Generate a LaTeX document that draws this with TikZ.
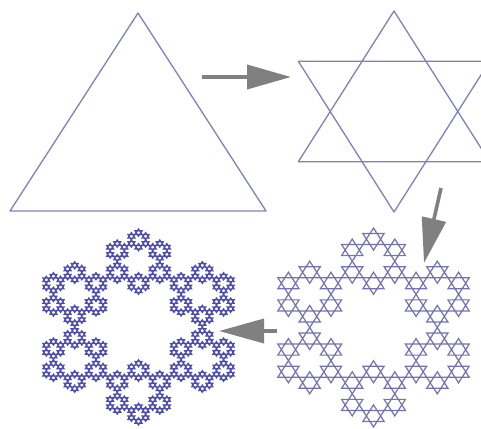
\documentclass[tikz,border=0pt]{standalone}
\usepackage{tikz}
\usetikzlibrary{arrows.meta}
\definecolor{paleline}{HTML}{8080BE}
\definecolor{midline}{HTML}{7272B4}
\definecolor{darkline}{HTML}{4E4EB0}
\definecolor{pointer}{HTML}{808080}
\tikzset{
  outline/.style={draw=paleline,line width=1.3pt,line join=round},
  midstar/.style={draw=midline,line width=1.2pt},
  darkstar/.style={draw=darkline,line width=1.15pt},
  pointer/.style={draw=pointer,line width=3.6pt,-{Triangle[length=#1,width=24pt]}},
}
\newcommand{\hexmark}[1]{\draw[#1] (90:1) -- (210:1) -- (330:1) -- cycle (270:1) -- (30:1) -- (150:1) -- cycle;}
\newcommand{\sixcopies}[1]{\foreach \a in {30,90,...,330} {\begin{scope}[shift={(\a:0.6667)},scale=0.3333] #1 \end{scope}}}
\begin{document}
\begin{tikzpicture}[x=1pt,y=-1pt]
        \clip (0,0) rectangle (481,428);
        \fill[white] (0,0) rectangle (481,428);
        % triangle
        \coordinate (apex) at (138,13);
        \coordinate (baseleft) at (10,211);
        \coordinate (baseright) at (266,211);
        \draw[outline] (apex) -- (baseleft) -- (baseright) -- cycle;
        % star
        \begin{scope}[shift={(394,111.5)},xscale=110.5,yscale=100.5]
            \hexmark{outline}
        \end{scope}
        % stars of stars
        \begin{scope}[shift={(373.5,327.5)},xscale=110.5,yscale=99.5]
            \sixcopies{\sixcopies{\hexmark{midstar}}}
        \end{scope}
        \begin{scope}[shift={(138.5,327)},xscale=110.5,yscale=98]
            \sixcopies{\sixcopies{\sixcopies{\hexmark{darkstar}}}}
        \end{scope}
        % pointers
        \coordinate (onestart) at (202,77);
        \coordinate (oneend) at (291,77);
        \coordinate (twostart) at (441,188);
        \coordinate (twoend) at (424,263);
        \coordinate (threestart) at (277,331);
        \coordinate (threeend) at (219,331);
        \draw[pointer=44pt] (onestart) -- (oneend);
        \draw[pointer=45pt] (twostart) -- (twoend);
        \draw[pointer=45pt] (threestart) -- (threeend);
    \end{tikzpicture}
\end{document}
